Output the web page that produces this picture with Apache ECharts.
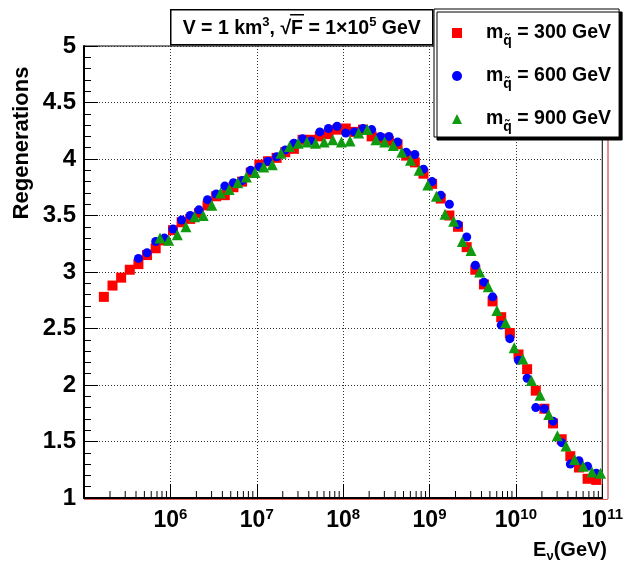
<!DOCTYPE html>
<html><head><meta charset="utf-8">
<script src="https://cdn.jsdelivr.net/npm/echarts@6/dist/echarts.min.js"></script>
<style>html,body{margin:0;padding:0;background:#fff}#c{width:626px;height:563px}</style>
</head><body><div id="c"></div>
<script>
// log10(E/GeV) for each point
const redLogE = [5.23,5.33,5.43,5.53,5.63,5.73,5.83,5.93,6.03,6.13,6.23,6.33,6.43,6.53,6.63,6.73,6.83,6.93,7.03,7.13,7.23,7.33,7.43,7.53,7.63,7.73,7.83,7.93,8.03,8.13,8.23,8.33,8.43,8.53,8.63,8.73,8.83,8.93,9.03,9.13,9.23,9.33,9.43,9.53,9.63,9.73,9.83,9.93,10.03,10.13,10.23,10.33,10.43,10.53,10.63,10.73,10.83,10.93];
const redY = [2.78,2.88,2.95,3.02,3.07,3.15,3.21,3.28,3.37,3.44,3.47,3.52,3.59,3.67,3.68,3.75,3.80,3.88,3.95,3.98,4.01,4.06,4.09,4.17,4.17,4.20,4.22,4.26,4.27,4.24,4.26,4.20,4.18,4.16,4.13,4.03,3.97,3.87,3.78,3.65,3.50,3.40,3.22,3.02,2.89,2.74,2.60,2.46,2.27,2.14,1.95,1.79,1.66,1.52,1.37,1.27,1.17,1.16];
const blueLogE = [5.63,5.73,5.83,5.93,6.03,6.13,6.23,6.33,6.43,6.53,6.63,6.73,6.83,6.93,7.03,7.13,7.23,7.33,7.43,7.53,7.63,7.73,7.83,7.93,8.03,8.13,8.23,8.33,8.43,8.53,8.63,8.73,8.83,8.93,9.03,9.13,9.23,9.33,9.43,9.53,9.63,9.73,9.83,9.93,10.03,10.13,10.23,10.33,10.43,10.53,10.63,10.73,10.83,10.93];
const blueY = [3.12,3.17,3.27,3.30,3.38,3.46,3.50,3.55,3.64,3.69,3.76,3.79,3.81,3.90,3.93,3.98,4.02,4.08,4.14,4.18,4.16,4.24,4.27,4.29,4.23,4.24,4.27,4.26,4.20,4.20,4.15,4.06,4.04,3.91,3.80,3.68,3.60,3.42,3.31,3.06,2.91,2.78,2.53,2.41,2.22,2.06,1.80,1.79,1.68,1.49,1.30,1.33,1.28,1.22];
const greenLogE = [5.88,5.98,6.08,6.18,6.28,6.38,6.48,6.58,6.68,6.78,6.88,6.98,7.08,7.18,7.28,7.38,7.48,7.58,7.68,7.78,7.88,7.98,8.08,8.18,8.28,8.38,8.48,8.58,8.68,8.78,8.88,8.98,9.08,9.18,9.28,9.38,9.48,9.58,9.68,9.78,9.88,9.98,10.08,10.18,10.28,10.38,10.48,10.58,10.68,10.78,10.88,10.98];
const greenY = [3.30,3.28,3.33,3.40,3.49,3.50,3.59,3.70,3.73,3.79,3.84,3.88,3.93,3.95,4.05,4.11,4.14,4.15,4.14,4.15,4.17,4.15,4.16,4.23,4.26,4.17,4.15,4.12,4.06,3.99,3.90,3.77,3.67,3.51,3.45,3.27,3.19,3.00,2.87,2.66,2.55,2.33,2.23,2.04,1.91,1.74,1.55,1.46,1.34,1.28,1.23,1.22];
const seriesNames = ['300 GeV','600 GeV','900 GeV'];
const legendMass = ['300','600','900'];
const yTickLabels = ['1','1.5','2','2.5','3','3.5','4','4.5','5'];

const FONT = '"Liberation Sans", Arial, Helvetica, sans-serif';
function pts(logE, ys){ return ys.map((y,i)=>[Math.pow(10, logE[i]), y]); }
const minorTicks = [];
for (let n=5;n<11;n++) for (let m=2;m<10;m++) minorTicks.push([m*Math.pow(10,n), 1]);

// measure title pieces to place the overline of the square root
const TF = 19.5, TS = 13;
const cv = document.createElement('canvas').getContext('2d');
function mw(t, s){ cv.font = 'bold ' + s + 'px ' + FONT; return cv.measureText(t).width; }
const tParts = [['V = 1 km',TF],['3',TS],[', \u221A',TF],['F',TF],[' = 1\u00D710',TF],['5',TS],[' GeV',TF]];
const tTotal = tParts.reduce((a,p)=>a+mw(p[0],p[1]),0);
const tCenter = 131;
const tLeft = tCenter - tTotal/2;
const fStart = tLeft + mw('V = 1 km',TF) + mw('3',TS) + mw(', \u221A',TF);
const fEnd = fStart + mw('F',TF);

const chart = echarts.init(document.getElementById('c'), null, {renderer:'canvas'});
const bold = {fontFamily: FONT, fontWeight:'bold', color:'#000'};
chart.setOption({
  animation:false,
  backgroundColor:'#fff',
  grid:{left:84, right:19, top:46, bottom:65, show:true, borderColor:'#000', borderWidth:1, backgroundColor:'transparent'},
  xAxis:{
    type:'log', logBase:10, min:1e5, max:1e11, splitNumber:6,
    axisLine:{lineStyle:{color:'#000', width:2}},
    axisTick:{inside:true, length:14, lineStyle:{color:'#000'}},
    splitLine:{show:true, lineStyle:{color:'#333', type:[1,2], width:1}},
    axisLabel:{
      margin:9,
      formatter:function(v){ const e=Math.round(Math.log10(v)); return e===5 ? '' : '{b|10}{s|'+e+'}'; },
      rich:{ b:Object.assign({fontSize:23, lineHeight:28}, bold), s:Object.assign({fontSize:15, lineHeight:14, verticalAlign:'top'}, bold) }
    }
  },
  yAxis:{
    type:'value', min:1, max:5, interval:0.5,
    axisLine:{show:true, lineStyle:{color:'#000', width:2}},
    axisTick:{inside:true, length:14, lineStyle:{color:'#000'}},
    minorTick:{show:true, splitNumber:5, length:7, lineStyle:{color:'#000'}},
    splitLine:{show:true, lineStyle:{color:'#333', type:[1,2], width:1}},
    axisLabel:Object.assign({fontSize:24, margin:8, formatter:function(v, i){ return yTickLabels[i]; }}, bold)
  },
  legend:{
    orient:'vertical', left:434, top:9, z:10,
    padding:[14,8,3,18], itemWidth:10, itemHeight:10, itemGap:18,
    backgroundColor:'#fff', borderColor:'#000', borderWidth:1,
    shadowColor:'#000', shadowBlur:0, shadowOffsetX:3, shadowOffsetY:3,
    data:[{name:seriesNames[0], icon:'rect'},{name:seriesNames[1], icon:'circle'},{name:seriesNames[2], icon:'triangle'}],
    formatter:function(name){ const i=seriesNames.indexOf(name); return '{m|m}{q|q\u0303}{t| = '+legendMass[i]+' GeV}'; },
    textStyle:{ rich:{
      m:Object.assign({fontSize:19.5, lineHeight:30, padding:[0,0,0,19]}, bold),
      q:Object.assign({fontSize:14, lineHeight:12, verticalAlign:'bottom'}, bold),
      t:Object.assign({fontSize:19.5, lineHeight:30}, bold)
    }}
  },
  graphic:[
    {type:'group', left:170, top:9, children:[
      {type:'rect', shape:{x:0,y:0,width:262,height:35}, style:{fill:'#fff', stroke:'#000', lineWidth:1.5}},
      {type:'text', x:tLeft, y:19, style:{
        text:'{t|V = 1 km}{s|3}{t|, \u221AF = 1\u00D710}{s|5}{t| GeV}', align:'left', verticalAlign:'middle',
        rich:{ t:Object.assign({fontSize:TF, lineHeight:26}, bold), s:Object.assign({fontSize:TS, lineHeight:13, verticalAlign:'top'}, bold) }
      }},
      {type:'line', shape:{x1:fStart-1, y1:5, x2:fEnd+1, y2:5}, style:{stroke:'#000', lineWidth:1.5}}
    ]},
    {type:'line', z:8, shape:{x1:608, y1:46, x2:608, y2:499}, style:{stroke:'#d02020', lineWidth:1}},
    {type:'line', z:8, shape:{x1:84, y1:499.5, x2:608, y2:499.5}, style:{stroke:'#e06060', lineWidth:1}},
    {type:'text', x:22, y:143, rotation:Math.PI/2, style:{text:'Regenerations', align:'center', verticalAlign:'middle', fill:'#000', fontSize:22, fontWeight:'bold', fontFamily:FONT}},
    {type:'text', x:607, y:550, style:{
      text:'{b|E}{s|\u03BD}{b|(GeV)}', align:'right', verticalAlign:'middle',
      rich:{ b:Object.assign({fontSize:20, lineHeight:26}, bold), s:Object.assign({fontSize:13, lineHeight:12, verticalAlign:'bottom'}, bold) }
    }}
  ],
  series:[
    {name:seriesNames[0], type:'scatter', symbol:'rect', symbolSize:10, itemStyle:{color:'#ff0000', opacity:1}, data:pts(redLogE, redY), z:3},
    {name:seriesNames[1], type:'scatter', symbol:'circle', symbolSize:9, itemStyle:{color:'#0000ff', opacity:1}, data:pts(blueLogE, blueY), z:4},
    {name:seriesNames[2], type:'scatter', symbol:'triangle', symbolSize:11, itemStyle:{color:'#109a10', opacity:1}, data:pts(greenLogE, greenY), z:5},
    {name:'minorx', type:'custom', silent:true, z:6, data:minorTicks,
      renderItem:function(params, api){ const p=api.coord([api.value(0), api.value(1)]);
        return {type:'line', shape:{x1:p[0], y1:p[1], x2:p[0], y2:p[1]-7}, style:{stroke:'#000', lineWidth:1}}; }}
  ]
});
</script></body></html>
